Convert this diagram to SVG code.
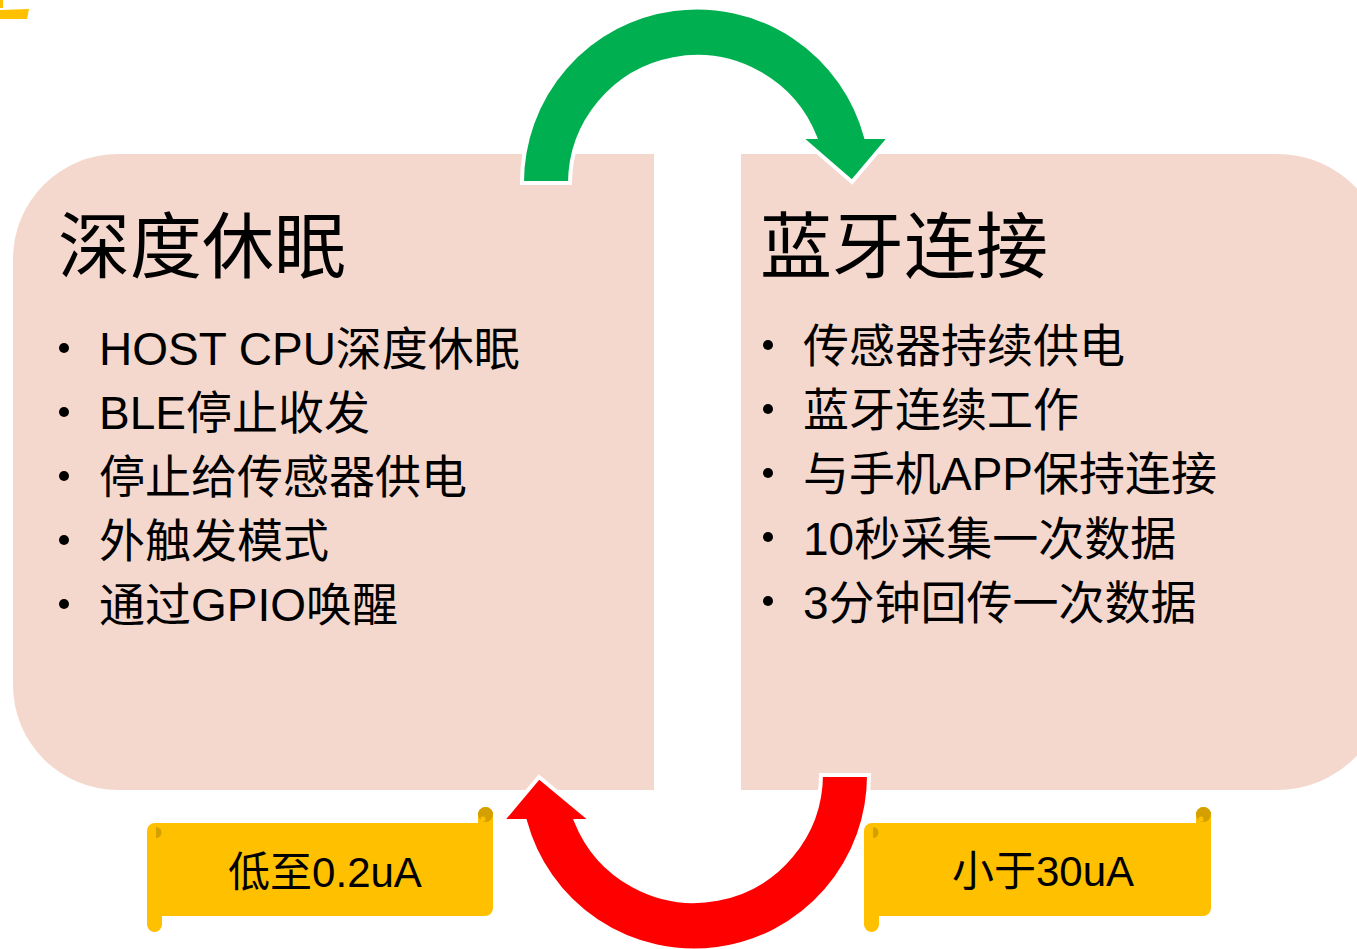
<svg xmlns="http://www.w3.org/2000/svg" width="1357" height="949" viewBox="0 0 1357 949">
<style>
.box{fill:#F4D8CE;}
.title{font-family:"Liberation Sans","Noto Sans CJK SC",sans-serif;font-size:72px;fill:#000;}
.item{font-family:"Liberation Sans","Noto Sans CJK SC",sans-serif;font-size:46px;fill:#000;}
.tag{font-family:"Liberation Sans","Noto Sans CJK SC",sans-serif;font-size:42px;fill:#000;text-anchor:middle;}
.scroll{fill:#FFC000;}
.curl{fill:#D4A000;}
.arrow{stroke:#fff;stroke-width:4;stroke-linejoin:miter;}
</style>
<rect width="1357" height="949" fill="#fff"/>
<g id="corner-fragment">
<rect x="0" y="0" width="3" height="8" fill="#FFC000"/>
<polygon points="0,10 29,9 27,19 0,19" fill="#FFC000"/>
</g>
<g id="node-sleep">
<path class="box" d="M118,154 H654 V790 H118 A105 105 0 0 1 13,685 V259 A105 105 0 0 1 118,154 Z"/>
<text class="title" x="58" y="272">深度休眠</text>
<g fill="#000">
<circle cx="64" cy="348" r="5"/>
<circle cx="64" cy="412" r="5"/>
<circle cx="64" cy="476" r="5"/>
<circle cx="64" cy="540" r="5"/>
<circle cx="64" cy="604" r="5"/>
</g>
<text class="item" x="99" y="365">HOST CPU深度休眠</text>
<text class="item" x="99" y="429">BLE停止收发</text>
<text class="item" x="99" y="493">停止给传感器供电</text>
<text class="item" x="99" y="557">外触发模式</text>
<text class="item" x="99" y="621">通过GPIO唤醒</text>
</g>
<g id="node-ble">
<path class="box" d="M741,154 H1277 A110 110 0 0 1 1387,264 V680 A110 110 0 0 1 1277,790 H741 Z"/>
<text class="title" x="760" y="272">蓝牙连接</text>
<g fill="#000">
<circle cx="768" cy="345" r="5"/>
<circle cx="768" cy="409" r="5"/>
<circle cx="768" cy="473" r="5"/>
<circle cx="768" cy="537" r="5"/>
<circle cx="768" cy="601" r="5"/>
</g>
<text class="item" x="803" y="362">传感器持续供电</text>
<text class="item" x="803" y="426">蓝牙连续工作</text>
<text class="item" x="803" y="490">与手机APP保持连接</text>
<text class="item" x="803" y="555">10秒采集一次数据</text>
<text class="item" x="803" y="619">3分钟回传一次数据</text>
</g>
<g id="connectors">
<path id="arrow-green" class="arrow" fill="#00B050" d="M522,183 A175 175 0 0 1 866,137 L890,137 L852,182 L800,137 L815,137 A127 127 0 0 0 570,183 Z"/>
<path id="arrow-red" class="arrow" fill="#FF0000" d="M869,775 A175 175 0 0 1 525,821 L502,821 L539,777 L592,821 L576,821 A127 127 0 0 0 821,775 Z"/>
</g>
<g id="label-low">
<rect class="scroll" x="478" y="807" width="15" height="30" rx="7.5"/>
<rect class="scroll" x="147" y="900" width="15" height="32" rx="7.5"/>
<rect class="scroll" x="147" y="823" width="346" height="93" rx="8"/>
<circle class="curl" cx="485.5" cy="814.5" r="7.5"/>
<circle class="scroll" cx="483" cy="819" r="2.5"/>
<path class="curl" d="M156,827 A5 5 0 0 1 156,838 Z"/>
<text class="tag" x="325" y="887">低至0.2uA</text>
</g>
<g id="label-30ua">
<rect class="scroll" x="1196" y="807" width="15" height="30" rx="7.5"/>
<rect class="scroll" x="864" y="900" width="15" height="32" rx="7.5"/>
<rect class="scroll" x="864" y="823" width="347" height="93" rx="8"/>
<circle class="curl" cx="1203.5" cy="814.5" r="7.5"/>
<circle class="scroll" cx="1201" cy="819" r="2.5"/>
<path class="curl" d="M873,827 A5 5 0 0 1 873,838 Z"/>
<text class="tag" x="1043" y="886">小于30uA</text>
</g>
</svg>
